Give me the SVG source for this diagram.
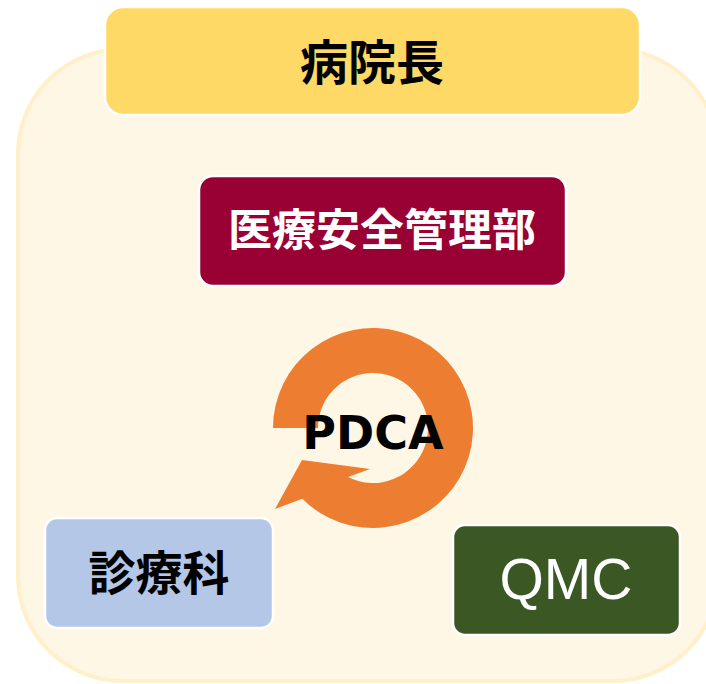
<svg xmlns="http://www.w3.org/2000/svg" width="706" height="684" viewBox="0 0 706 684">
<style>
.box{stroke:#ffffff;stroke-width:2.5}
.cjk{font-family:"Noto Sans CJK JP","Noto Sans CJK SC",sans-serif;font-weight:bold;text-anchor:middle;dominant-baseline:central}
</style>
<rect x="0" y="0" width="706" height="684" fill="#ffffff"/>
<g id="background">
<rect x="18" y="49" width="700" height="632" rx="105" ry="105" fill="#FFF7E6" stroke="#FFF0C9" stroke-width="4"/>
</g>
<g id="director">
<rect class="box" x="105" y="7" width="535" height="108" rx="18" fill="#FFD966"/>
<text class="cjk" x="372" y="59" font-size="48" fill="#000000">病院長</text>
</g>
<g id="safety">
<rect class="box" x="199" y="176" width="367" height="110" rx="14" fill="#990033"/>
<text class="cjk" x="382" y="227" font-size="44" fill="#ffffff">医療安全管理部</text>
</g>
<g id="pdca">
<path d="M273 428 A100 100 0 1 1 302.3 498.7 L275 509 L302 460 L370 469 L348 477 A55 55 0 1 0 318 428 Z" fill="#ED7D31"/>
<text x="373" y="449" font-family="DejaVu Sans, sans-serif" font-weight="bold" font-size="46" text-anchor="middle" fill="#000000">PDCA</text>
</g>
<g id="dept">
<rect class="box" x="45" y="518" width="228" height="110" rx="12" fill="#B4C7E7"/>
<text class="cjk" x="159" y="569" font-size="47" fill="#000000">診療科</text>
</g>
<g id="qmc">
<rect class="box" x="453" y="525" width="227" height="110" rx="12" fill="#3A5724"/>
<text x="566" y="599" font-family="Liberation Sans, sans-serif" font-size="57" text-anchor="middle" fill="#ffffff">QMC</text>
</g>
<g id="connectors"></g>
</svg>
